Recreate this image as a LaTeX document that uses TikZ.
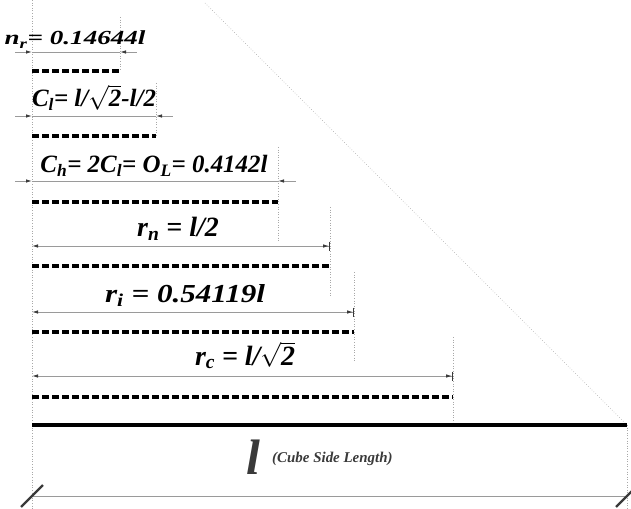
\documentclass[tikz,border=0pt]{standalone}
\usepackage{fontspec}
\setmainfont{Liberation Serif}
\usetikzlibrary{arrows.meta}
\definecolor{dimgray}{HTML}{9A9A9A}
\definecolor{tipgray}{HTML}{3A3A3A}
\definecolor{guide}{HTML}{A8A8A8}
\tikzset{
  guideline/.style={dotted, guide, line width=0.6bp},
  dimline/.style={dimgray, line width=0.9bp},
  intip/.style={dimline, -{Latex[length=6bp,width=3.5bp,color=tipgray]}},
  outtip/.style={dimline, {Latex[length=6bp,width=3.5bp,color=tipgray]}-{Latex[length=6bp,width=3.5bp,color=tipgray]Bar[width=9bp,color=tipgray]}},
  radline/.style={line width=3.2bp, dash pattern=on 7bp off 3bp},
  sideline/.style={line width=3.6bp},
  slash/.style={line width=2.4bp, tipgray},
  lbl/.style={anchor=base, inner sep=0pt, font=\bfseries\itshape},
}
\newcommand{\wide}[2]{\scalebox{#1}[1]{#2}}
\newcommand{\rt}{$\sqrt{\mbox{2}}$}

\begin{document}
\begin{tikzpicture}[x=1bp, y=-1bp]
  \useasboundingbox (0,0) rectangle (631,509);
  % columns
  \coordinate (o) at (32,0);
  \coordinate (nr) at (120,0);
  \coordinate (cl) at (156,0);
  \coordinate (ch) at (278,0);
  \coordinate (rn) at (330,0);
  \coordinate (ri) at (354,0);
  \coordinate (rc) at (453,0);
  \coordinate (L) at (627,0);
  % rows: dimension line (d), dashed radius (r)
  \coordinate (d1) at (0,52);  \coordinate (r1) at (0,71);
  \coordinate (d2) at (0,116); \coordinate (r2) at (0,136);
  \coordinate (d3) at (0,181); \coordinate (r3) at (0,202);
  \coordinate (d4) at (0,246); \coordinate (r4) at (0,266);
  \coordinate (d5) at (0,312); \coordinate (r5) at (0,332);
  \coordinate (d6) at (0,376); \coordinate (r6) at (0,397);
  \coordinate (side) at (0,425);
  \coordinate (dl) at (0,496);

  % guide lines
  \draw[guideline] (o) -- ++(0,509);
  \draw[guideline] (120,17) -- (nr |- r1);
  \draw[guideline] (156,83) -- (cl |- r2);
  \draw[guideline] (278,147) -- (278,242);
  \draw[guideline] (330,207) -- (330,297);
  \draw[guideline] (354,272) -- (354,362);
  \draw[guideline] (453,337) -- (rc |- side);
  \draw[guideline] (L |- side) -- ++(0,84);
  \draw[guideline] (205,3) -- (L |- side);

  % n_r
  \node[lbl, font=\fontsize{20}{20}\selectfont\bfseries\itshape] (lnr) at (75,45) {\wide{1.36}{n\textsubscript{r}= 0.14644l}};
  \draw[dimline] (o |- d1) -- (nr |- d1);
  \draw[intip] ([xshift=-17]o |- d1) -- (o |- d1);
  \draw[intip] ([xshift=17]nr |- d1) -- (nr |- d1);
  \draw[radline] (o |- r1) -- (nr |- r1);

  % C_l
  \node[lbl, font=\fontsize{25}{25}\selectfont\bfseries\itshape] (lcl) at (94,107) {C\textsubscript{l}= l/\rt-l/2};
  \draw[dimline] (o |- d2) -- (cl |- d2);
  \draw[intip] ([xshift=-17]o |- d2) -- (o |- d2);
  \draw[intip] ([xshift=17]cl |- d2) -- (cl |- d2);
  \draw[radline] (o |- r2) -- (cl |- r2);

  % C_h
  \node[lbl, font=\fontsize{25}{25}\selectfont\bfseries\itshape] (lch) at (154,173) {C\textsubscript{h}= 2C\textsubscript{l}= O\textsubscript{L}= 0.4142l};
  \draw[dimline] (o |- d3) -- (ch |- d3);
  \draw[intip] ([xshift=-17]o |- d3) -- (o |- d3);
  \draw[intip] ([xshift=18]ch |- d3) -- (ch |- d3);
  \draw[radline] (o |- r3) -- (ch |- r3);

  % r_n
  \node[lbl, font=\fontsize{28}{28}\selectfont\bfseries\itshape] (lrn) at (178,237) {r\textsubscript{n} = l/2};
  \draw[outtip] (o |- d4) -- (rn |- d4);
  \draw[radline] (o |- r4) -- (rn |- r4);

  % r_i
  \node[lbl, font=\fontsize{26}{26}\selectfont\bfseries\itshape] (lri) at (185,302) {\wide{1.2}{r\textsubscript{i} = 0.54119l}};
  \draw[outtip] (o |- d5) -- (ri |- d5);
  \draw[radline] (o |- r5) -- (ri |- r5);

  % r_c
  \node[lbl, font=\fontsize{28}{28}\selectfont\bfseries\itshape] (lrc) at (245,365) {r\textsubscript{c} = l/\rt};
  \draw[outtip] (o |- d6) -- (rc |- d6);
  \draw[radline] (o |- r6) -- (rc |- r6);

  % cube side
  \draw[sideline] (o |- side) -- (L |- side);
  \node[lbl, font=\fontsize{50}{50}\selectfont\bfseries\itshape, text=tipgray] (ll) at (253,474) {l};
  \node[lbl, font=\fontsize{15}{15}\selectfont\bfseries\itshape, anchor=base west, text=tipgray] (lside) at (272,462) {(Cube Side Length)};
  \draw[dimline] (o |- dl) -- (L |- dl);
  \draw[slash] ([xshift=-11,yshift=-11]o |- dl) -- ([xshift=11,yshift=11]o |- dl);
  \draw[slash] ([xshift=-11,yshift=-11]L |- dl) -- ([xshift=11,yshift=11]L |- dl);
\end{tikzpicture}
\end{document}
